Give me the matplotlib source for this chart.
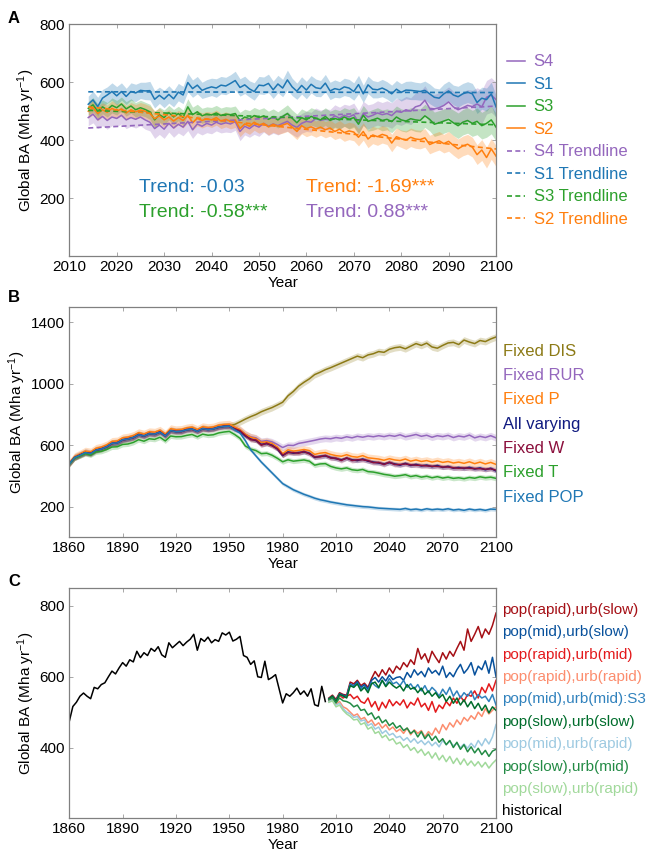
import numpy as np
import matplotlib
matplotlib.use("Agg")
import matplotlib.pyplot as plt

plt.rcParams['font.family'] = ['Liberation Sans', 'DejaVu Sans']
plt.rcParams['mathtext.fontset'] = 'custom'
plt.rcParams['mathtext.rm'] = 'Liberation Sans'
plt.rcParams['mathtext.default'] = 'regular'

# ---------------- panel A: scenario means, spread and trend ----------------
years_a = np.arange(2014, 2101)

s1 = [524, 539, 516, 545, 556, 568, 553, 568, 551, 568,
      563, 572, 570, 571, 541, 555, 542, 558, 543, 566,
      556, 599, 578, 590, 572, 579, 584, 580, 590, 587,
      596, 606, 582, 591, 577, 568, 590, 588, 596, 574,
      594, 580, 608, 584, 569, 589, 573, 593, 581, 578,
      597, 570, 578, 574, 584, 580, 568, 592, 560, 591,
      576, 574, 580, 572, 560, 576, 565, 573, 572, 570,
      568, 572, 560, 548, 545, 560, 570, 556, 550, 560,
      566, 560, 530, 545, 540, 560, 515]
s3 = [510, 522, 500, 515, 505, 520, 512, 525, 508, 518,
      505, 512, 506, 498, 470, 488, 478, 495, 480, 492,
      478, 515, 488, 498, 484, 490, 487, 494, 485, 490,
      488, 492, 468, 480, 474, 485, 478, 484, 472, 480,
      470, 482, 492, 476, 460, 478, 470, 482, 476, 470,
      482, 468, 475, 470, 480, 472, 478, 455, 486, 465,
      470, 476, 468, 472, 464, 480, 470, 466, 474, 470,
      468, 484, 472, 455, 460, 466, 472, 460, 450, 462,
      468, 458, 465, 450, 458, 470, 445]
s4 = [478, 490, 470, 482, 468, 480, 475, 486, 470, 478,
      472, 480, 470, 462, 440, 452, 438, 458, 442, 455,
      445, 465, 436, 456, 448, 458, 452, 462, 455, 460,
      456, 464, 430, 448, 440, 452, 445, 458, 448, 456,
      450, 458, 465, 452, 444, 458, 465, 462, 475, 468,
      472, 470, 484, 476, 486, 480, 488, 462, 492, 480,
      486, 494, 488, 492, 485, 500, 496, 505, 500, 515,
      520, 538, 510, 508, 512, 520, 532, 515, 505, 512,
      520, 516, 525, 515, 548, 556, 540]
s2 = [500, 512, 492, 505, 496, 510, 500, 508, 494, 505,
      498, 504, 500, 492, 474, 484, 470, 480, 466, 478,
      468, 486, 460, 476, 468, 474, 470, 478, 466, 472,
      465, 470, 440, 456, 448, 462, 452, 458, 446, 455,
      448, 452, 458, 445, 430, 450, 440, 446, 438, 445,
      436, 442, 430, 438, 426, 432, 428, 410, 430, 404,
      418, 412, 420, 415, 390, 412, 405, 400, 410, 404,
      402, 408, 385, 392, 398, 388, 396, 382, 370, 380,
      386, 376, 350, 366, 340, 370, 345]

sp1 = [28, 30, 32, 30, 28, 30, 32, 30, 28, 30,
       30, 28, 30, 32, 30, 28, 30, 30, 28, 30,
       30, 32, 30, 30, 28, 30, 30, 32, 30, 30,
       30, 32, 30, 30, 28, 30, 30, 30, 32, 30,
       30, 30, 34, 30, 28, 30, 30, 30, 30, 28,
       30, 30, 30, 28, 30, 30, 30, 32, 30, 30,
       30, 28, 30, 30, 30, 30, 30, 30, 32, 30,
       30, 32, 34, 32, 32, 34, 34, 34, 36, 36,
       36, 36, 38, 38, 40, 40, 40]
sp4 = [28, 30, 30, 32, 30, 30, 28, 30, 30, 30,
       30, 30, 32, 30, 34, 32, 32, 30, 32, 30,
       30, 32, 30, 30, 30, 32, 30, 30, 30, 32,
       30, 30, 32, 30, 30, 32, 32, 30, 32, 32,
       32, 32, 34, 32, 34, 34, 35, 34, 36, 36,
       36, 36, 38, 38, 38, 40, 40, 40, 42, 42,
       40, 42, 42, 44, 44, 44, 45, 46, 46, 48,
       48, 50, 50, 50, 52, 52, 52, 54, 54, 55,
       55, 56, 56, 58, 58, 60, 60]
sp3 = [24, 25, 25, 24, 25, 26, 25, 24, 25, 25,
       25, 26, 25, 26, 28, 26, 26, 25, 26, 25,
       26, 28, 26, 26, 26, 25, 26, 26, 26, 26,
       26, 26, 28, 27, 28, 28, 28, 28, 28, 28,
       28, 28, 30, 28, 30, 30, 30, 30, 30, 30,
       30, 32, 32, 32, 32, 34, 34, 34, 34, 34,
       36, 36, 36, 36, 38, 38, 38, 38, 38, 40,
       40, 40, 40, 42, 42, 42, 42, 44, 44, 44,
       44, 45, 46, 46, 48, 48, 48]
sp2 = [24, 25, 25, 24, 25, 26, 25, 24, 25, 25,
       25, 26, 25, 26, 28, 26, 26, 25, 26, 25,
       26, 26, 26, 26, 26, 25, 26, 26, 26, 26,
       26, 26, 28, 27, 28, 28, 28, 28, 28, 28,
       28, 28, 28, 28, 28, 28, 28, 28, 28, 28,
       28, 28, 28, 30, 30, 30, 30, 30, 30, 30,
       30, 30, 30, 30, 30, 30, 30, 32, 32, 32,
       32, 32, 32, 32, 32, 32, 34, 34, 34, 34,
       34, 34, 34, 36, 36, 36, 36]

# trend line: value at 2014 and slope (Mha/yr)
trend_start = {"S4": 442, "S1": 567, "S3": 503, "S2": 515}
trend_slope = {"S4": 0.88, "S1": -0.03, "S3": -0.58, "S2": -1.69}
trend_text = {"S1": "Trend: -0.03", "S3": "Trend: -0.58***",
              "S2": "Trend: -1.69***", "S4": "Trend: 0.88***"}

# ---------------- panel B: factorial experiments (every 3 years) ----------------
years_b = np.arange(1860, 2101, 3)

fixed_dis = [480, 522, 537, 554, 547, 570, 577, 592, 614, 617,
             637, 642, 652, 670, 662, 677, 674, 687, 662, 697,
             690, 692, 702, 707, 692, 710, 704, 708, 720, 724,
             726, 735, 752, 770, 786, 800, 818, 832, 845, 862,
             880, 922, 950, 985, 1010, 1032, 1060, 1075, 1092, 1105,
             1120, 1135, 1150, 1165, 1180, 1170, 1188, 1196, 1210, 1205,
             1225, 1235, 1240, 1228, 1245, 1262, 1250, 1265, 1240, 1232,
             1250, 1266, 1270, 1256, 1285, 1272, 1262, 1282, 1275, 1292,
             1305]
fixed_rur = [480, 522, 538, 555, 548, 571, 578, 593, 615, 618,
             638, 643, 653, 671, 663, 678, 675, 688, 663, 698,
             691, 693, 703, 708, 693, 711, 705, 709, 721, 725,
             727, 710, 700, 672, 655, 648, 625, 630, 622, 605,
             585, 600, 598, 612, 618, 625, 632, 640, 645, 642,
             650, 645, 655, 648, 658, 652, 660, 655, 662, 656,
             664, 658, 668, 655, 662, 670, 658, 665, 652, 662,
             656, 664, 650, 660, 654, 666, 648, 658, 650, 662,
             648]
fixed_p = [482, 526, 543, 562, 556, 580, 588, 602, 625, 628,
           648, 653, 663, 682, 673, 688, 685, 698, 673, 708,
           701, 703, 713, 718, 703, 721, 715, 719, 731, 735,
           737, 718, 702, 672, 652, 642, 618, 622, 612, 588,
           545, 570, 562, 566, 572, 565, 540, 548, 552, 540,
           532, 528, 538, 526, 522, 532, 518, 514, 510, 502,
           512, 504, 500, 510, 496, 504, 494, 500, 490, 498,
           488, 494, 484, 490, 482, 492, 480, 490, 478, 488,
           475]
all_varying = [478, 520, 535, 552, 545, 568, 575, 590, 612, 615,
               635, 640, 650, 668, 660, 675, 672, 685, 660, 695,
               688, 690, 700, 705, 690, 708, 702, 706, 718, 722,
               724, 705, 690, 660, 640, 630, 605, 610, 600, 575,
               532, 556, 548, 552, 556, 548, 520, 528, 530, 520,
               512, 505, 515, 505, 500, 510, 496, 490, 484, 478,
               486, 478, 470, 482, 468, 475, 465, 470, 460, 468,
               455, 462, 450, 455, 448, 456, 445, 452, 440, 450,
               432]
fixed_w = [480, 518, 537, 550, 547, 566, 577, 588, 610, 617,
           633, 642, 648, 670, 658, 677, 670, 687, 662, 693,
           690, 688, 702, 703, 692, 706, 704, 708, 716, 724,
           722, 708, 694, 664, 636, 634, 600, 614, 596, 578,
           536, 552, 552, 548, 560, 544, 524, 524, 534, 516,
           516, 500, 518, 500, 505, 505, 500, 486, 488, 474,
           490, 474, 474, 478, 472, 470, 468, 465, 463, 462,
           458, 458, 453, 450, 452, 450, 448, 447, 444, 446,
           438]
fixed_t = [476, 516, 530, 545, 536, 556, 560, 572, 588, 590,
           605, 608, 618, 636, 626, 642, 638, 652, 628, 660,
           655, 656, 664, 670, 655, 672, 665, 668, 680, 686,
           690, 670, 645, 595, 575, 565, 545, 548, 535, 515,
           492, 505, 496, 500, 504, 496, 470, 478, 480, 462,
           452, 446, 452, 440, 436, 442, 428, 425, 418, 410,
           405, 398, 402, 408, 396, 402, 392, 398, 388, 395,
           386, 392, 384, 388, 382, 390, 385, 394, 388, 392,
           384]
fixed_pop = [478, 520, 535, 552, 545, 568, 575, 590, 612, 615,
             635, 640, 650, 668, 660, 675, 672, 685, 660, 695,
             688, 690, 700, 705, 690, 708, 702, 706, 718, 722,
             724, 700, 680, 630, 570, 530, 490, 455, 420, 385,
             350, 330, 310, 295, 280, 268, 255, 245, 238, 230,
             224, 218, 212, 208, 204, 200, 198, 194, 190, 188,
             186, 184, 182, 188, 180, 184, 178, 186, 180, 184,
             180, 186, 178, 182, 176, 184, 178, 182, 176, 184,
             182]

names_b = ["Fixed DIS", "Fixed RUR", "Fixed P", "All varying",
           "Fixed W", "Fixed T", "Fixed POP"]
series_b = [fixed_dis, fixed_rur, fixed_p, all_varying, fixed_w, fixed_t, fixed_pop]
band_b = [22, 22, 25, 14, 16, 16, 12]
colors_b = ["#8c7a16", "#9467bd", "#ff7f0e", "#101a80", "#8b0f3c", "#2ca02c", "#1f77b4"]

# ---------------- panel C: historical + population/urbanisation scenarios ----------------
years_hist = np.arange(1860, 2005, 2)
historical = [474, 516, 528, 545, 554, 545, 538, 570, 566, 578,
              583, 600, 616, 608, 625, 640, 630, 648, 642, 672,
              654, 668, 660, 680, 672, 685, 662, 655, 696, 682,
              691, 700, 688, 698, 706, 720, 675, 708, 700, 712,
              696, 705, 700, 724, 718, 726, 701, 706, 714, 660,
              655, 635, 645, 600, 598, 644, 592, 598, 606, 566,
              526, 552, 545, 555, 568, 550, 560, 545, 566, 521,
              517, 573, 530]

years_scen = np.arange(2006, 2101, 2)
rapid_slow = [540, 548, 536, 555, 550, 548, 585, 580, 590, 575,
              582, 570, 595, 615, 600, 620, 605, 625, 610, 630,
              620, 640, 628, 648, 635, 680, 650, 665, 640, 672,
              655, 640, 668, 650, 672, 658, 680, 700, 675, 735,
              700, 720, 742, 710, 735, 720, 745, 780]
mid_slow = [538, 545, 532, 552, 548, 545, 580, 575, 586, 570,
            578, 565, 590, 598, 585, 600, 588, 605, 592, 598,
            600, 590, 612, 598, 620, 605, 615, 600, 625, 610,
            618, 605, 630, 598, 612, 600, 620, 635, 610, 622,
            640, 605, 630, 620, 645, 610, 655, 600]
rapid_mid = [535, 542, 528, 548, 540, 545, 550, 538, 545, 530,
             525, 540, 515, 530, 505, 528, 512, 535, 518, 530,
             520, 535, 512, 528, 520, 540, 515, 525, 505, 530,
             500, 520, 510, 530, 518, 540, 525, 545, 530, 550,
             545, 560, 540, 570, 555, 580, 560, 590]
rapid_rapid = [530, 536, 522, 530, 515, 510, 500, 490, 495, 480,
               485, 470, 478, 462, 470, 455, 465, 450, 458, 445,
               452, 440, 455, 436, 450, 440, 448, 430, 445, 435,
               455, 440, 465, 450, 470, 458, 478, 465, 485, 475,
               490, 480, 500, 488, 510, 495, 505, 515]
mid_mid = [536, 544, 530, 550, 545, 542, 578, 572, 582, 565,
           572, 560, 585, 575, 568, 590, 575, 595, 580, 585,
           575, 590, 570, 580, 565, 578, 560, 575, 555, 570,
           560, 545, 565, 550, 570, 545, 560, 540, 555, 545,
           560, 535, 550, 540, 545, 530, 550, 520]
slow_slow = [537, 545, 530, 550, 546, 540, 575, 570, 580, 560,
             570, 555, 580, 585, 570, 590, 572, 585, 575, 568,
             575, 560, 578, 565, 570, 555, 568, 550, 560, 545,
             555, 540, 550, 530, 545, 525, 540, 520, 535, 515,
             530, 510, 525, 505, 520, 498, 515, 505]
mid_rapid = [530, 535, 520, 525, 510, 500, 495, 485, 488, 475,
             478, 462, 468, 452, 458, 440, 448, 435, 440, 428,
             432, 420, 428, 415, 425, 412, 420, 408, 418, 405,
             415, 402, 420, 408, 418, 405, 412, 400, 410, 398,
             412, 400, 420, 405, 425, 410, 430, 465]
slow_mid = [535, 540, 526, 540, 532, 530, 525, 515, 520, 505,
            508, 492, 498, 480, 488, 470, 478, 462, 470, 455,
            462, 448, 455, 440, 448, 430, 445, 425, 438, 420,
            432, 415, 425, 408, 420, 400, 415, 395, 408, 388,
            402, 385, 398, 380, 392, 375, 390, 395]
slow_rapid = [528, 532, 515, 520, 505, 495, 488, 478, 480, 465,
              470, 452, 458, 440, 445, 428, 435, 420, 425, 410,
              415, 400, 408, 392, 400, 385, 395, 378, 388, 370,
              385, 365, 378, 360, 375, 355, 370, 352, 368, 350,
              362, 348, 360, 345, 358, 342, 355, 365]

names_c = ["pop(rapid),urb(slow)", "pop(mid),urb(slow)", "pop(rapid),urb(mid)",
           "pop(rapid),urb(rapid)", "pop(mid),urb(mid):S3", "pop(slow),urb(slow)",
           "pop(mid),urb(rapid)", "pop(slow),urb(mid)", "pop(slow),urb(rapid)"]
series_c = [rapid_slow, mid_slow, rapid_mid, rapid_rapid, mid_mid,
            slow_slow, mid_rapid, slow_mid, slow_rapid]
colors_c = ["#a50f15", "#08519c", "#e31a1c", "#fc8d6e", "#3182bd",
            "#006d2c", "#9ecae1", "#238b45", "#a1d99b"]


def style_axes(ax):
    for sp in ax.spines.values():
        sp.set_color("0.5")
        sp.set_linewidth(0.9)
    ax.tick_params(direction="in", length=3, width=0.6, color="0.6",
                   top=True, right=True, labelsize=11, pad=3)
    ax.set_xlabel("Year", fontsize=11, labelpad=1)
    ax.set_ylabel("Global BA (Mha yr$^{-1}$)", fontsize=11, labelpad=2)


fig = plt.figure(figsize=(6.5, 8.51), dpi=100)
W = 0.6565

# ---------------- A ----------------
axA = fig.add_axes([0.1066, 0.6992, W, 0.2722])
colA = {"S4": "#9467bd", "S1": "#1f77b4", "S3": "#2ca02c", "S2": "#ff7f0e"}
dataA = {"S4": (s4, sp4), "S1": (s1, sp1), "S3": (s3, sp3), "S2": (s2, sp2)}
order = ["S4", "S1", "S3", "S2"]
for k in order:
    v, sp = np.array(dataA[k][0]), np.array(dataA[k][1])
    axA.fill_between(years_a, v - sp, v + sp, color=colA[k], alpha=0.28, lw=0)
line_h = []
for k in order:
    h, = axA.plot(years_a, dataA[k][0], color=colA[k], lw=1.1, label=k)
    line_h.append(h)
trend_h = []
for k in order:
    tr = trend_start[k] + trend_slope[k] * (years_a - years_a[0])
    h, = axA.plot(years_a, tr, color=colA[k], lw=1.2, ls=(0, (3, 2)), label=k + " Trendline")
    trend_h.append(h)
axA.text(2024.8, 235, trend_text["S1"], color=colA["S1"], fontsize=14, va="center")
axA.text(2024.8, 150, trend_text["S3"], color=colA["S3"], fontsize=14, va="center")
axA.text(2060.0, 235, trend_text["S2"], color=colA["S2"], fontsize=14, va="center")
axA.text(2060.0, 150, trend_text["S4"], color=colA["S4"], fontsize=14, va="center")
axA.set_xlim(2010, 2100)
axA.set_ylim(0, 800)
axA.set_xticks(np.arange(2010, 2101, 10))
axA.set_yticks([200, 400, 600, 800])
style_axes(axA)
axA.legend(handles=line_h + trend_h, loc="center left", bbox_to_anchor=(1.026, 0.498),
           frameon=False, fontsize=12, labelcolor="linecolor", handlelength=1.1,
           handletextpad=0.5, labelspacing=0.45, borderpad=0, borderaxespad=0)

# ---------------- B ----------------
axB = fig.add_axes([0.1066, 0.3686, W, 0.2706])
for v, bw, c in zip(series_b, band_b, colors_b):
    v = np.array(v)
    axB.fill_between(years_b, v - bw, v + bw, color=c, alpha=0.25, lw=0)
for name, v, c in zip(names_b, series_b, colors_b):
    axB.plot(years_b, v, color=c, lw=1.1, label=name)
axB.set_xlim(1860, 2100)
axB.set_ylim(0, 1500)
axB.set_xticks(np.arange(1860, 2101, 30))
axB.set_yticks([200, 600, 1000, 1400])
style_axes(axB)
legB = axB.legend(loc="center left", bbox_to_anchor=(1.016, 0.492), frameon=False,
                  fontsize=12, labelcolor="linecolor", handlelength=0, handletextpad=0,
                  labelspacing=0.56, borderpad=0, borderaxespad=0)
for h in legB.legend_handles:
    h.set_visible(False)

# ---------------- C ----------------
axC = fig.add_axes([0.1066, 0.0384, W, 0.2703])
for name, v, c in zip(names_c, series_c, colors_c):
    axC.plot(years_scen, v, color=c, lw=1.1, label=name)
axC.plot(years_hist, historical, color="black", lw=1.1, label="historical")
axC.set_xlim(1860, 2100)
axC.set_ylim(200, 850)
axC.set_xticks(np.arange(1860, 2101, 30))
axC.set_yticks([400, 600, 800])
style_axes(axC)
legC = axC.legend(loc="center left", bbox_to_anchor=(1.015, 0.468), frameon=False,
                  fontsize=11, labelcolor="linecolor", handlelength=0, handletextpad=0,
                  labelspacing=0.55, borderpad=0, borderaxespad=0)
for h in legC.legend_handles:
    h.set_visible(False)

# panel letters
fig.text(8 / 650, 1 - 23 / 851, "A", fontsize=12, fontweight="bold", va="baseline")
fig.text(8 / 650, 1 - 302 / 851, "B", fontsize=12, fontweight="bold", va="baseline")
fig.text(8 / 650, 1 - 586 / 851, "C", fontsize=12, fontweight="bold", va="baseline")

fig.savefig("out.png", dpi=100)
